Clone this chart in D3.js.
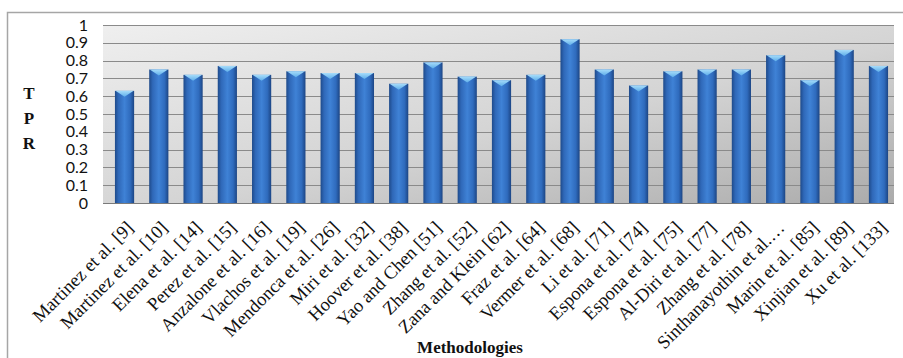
<!DOCTYPE html>
<html>
<head>
<meta charset="utf-8">
<script src="https://cdn.jsdelivr.net/npm/d3@7"></script>
<style>
  html, body { margin: 0; padding: 0; background: #ffffff; }
  svg { display: block; }
</style>
</head>
<body>
<svg id="chart" width="903" height="358"></svg>
<script>
const categories = [
  "Martinez et al. [9]", "Martinez et al. [10]", "Elena et al. [14]", "Perez et al. [15]",
  "Anzalone et al. [16]", "Vlachos et al. [19]", "Mendonca et al. [26]", "Miri et al. [32]",
  "Hoover et al. [38]", "Yao and Chen [51]", "Zhang et al. [52]", "Zana and Klein [62]",
  "Fraz et al. [64]", "Vermer et al. [68]", "Li et al. [71]", "Espona et al. [74]",
  "Espona et al. [75]", "Al-Diri et al. [77]", "Zhang et al. [78]", "Sinthanayothin et al.…",
  "Marin et al. [85]", "Xinjian et al. [89]", "Xu et al. [133]"
];
const tprValues = [
  0.63, 0.75, 0.72, 0.77, 0.72, 0.74, 0.73, 0.73, 0.67, 0.79, 0.71, 0.69,
  0.72, 0.92, 0.75, 0.66, 0.74, 0.75, 0.75, 0.83, 0.69, 0.86, 0.77
];
const yTicks = [0, 0.1, 0.2, 0.3, 0.4, 0.5, 0.6, 0.7, 0.8, 0.9, 1];
const yTitleLetters = ["T", "P", "R"];
const xTitle = "Methodologies";

const svg = d3.select("#chart");
const W = 903, H = 358;

const wallLeft = 103, wallRight = 894;
const y = d3.scaleLinear().domain([0, 1]).range([203, 25]);
const x = d3.scaleBand().domain(categories).range([107.4, 895.6])
  .paddingInner(0.44).paddingOuter(0.22);

const defs = svg.append("defs");
const wallGrad = defs.append("linearGradient").attr("id", "wallGrad")
  .attr("x1", "0").attr("y1", "0").attr("x2", "1").attr("y2", "1");
wallGrad.append("stop").attr("offset", "0%").attr("stop-color", "#efefef");
wallGrad.append("stop").attr("offset", "55%").attr("stop-color", "#d4d4d4");
wallGrad.append("stop").attr("offset", "100%").attr("stop-color", "#ababab");

const barGrad = defs.append("linearGradient").attr("id", "barGrad")
  .attr("x1", "0").attr("y1", "0").attr("x2", "1").attr("y2", "0");
[["0%", "#1e4a8a"], ["18%", "#2f68b8"], ["50%", "#3f82d6"], ["80%", "#2f6bbd"], ["100%", "#1c4584"]]
  .forEach(([o, c]) => barGrad.append("stop").attr("offset", o).attr("stop-color", c));

const capGrad = defs.append("linearGradient").attr("id", "capGrad")
  .attr("x1", "0").attr("y1", "0").attr("x2", "0").attr("y2", "1");
capGrad.append("stop").attr("offset", "0%").attr("stop-color", "#a6dcfa");
capGrad.append("stop").attr("offset", "100%").attr("stop-color", "#5eaeea");

// outer chart border
svg.append("path")
  .attr("d", `M7.5,${H} L7.5,12.5 L${W},12.5`)
  .attr("fill", "none").attr("stroke", "#a6a6a6").attr("stroke-width", 1.5);

// back wall
svg.append("rect")
  .attr("x", wallLeft).attr("y", y(1))
  .attr("width", wallRight - wallLeft).attr("height", y(0) - y(1))
  .attr("fill", "url(#wallGrad)");

// gridlines
svg.append("g").selectAll("line").data(yTicks).join("line")
  .attr("x1", wallLeft).attr("x2", wallRight)
  .attr("y1", d => Math.round(y(d)) + 0.5).attr("y2", d => Math.round(y(d)) + 0.5)
  .attr("stroke", d => d === 0 ? "#7a7a7a" : "#8a8a8a").attr("stroke-width", 1);

// y axis labels
const yAxis = d3.axisLeft(y).tickValues(yTicks).tickSize(0).tickPadding(0)
  .tickFormat(d => d3.format("")(d));
const yg = svg.append("g").attr("transform", `translate(${wallLeft - 15},0)`).call(yAxis);
yg.select(".domain").remove();
yg.selectAll("text")
  .attr("font-family", "Lato, 'Open Sans', sans-serif")
  .attr("font-size", 16).attr("fill", "#111");

// bars
const bars = svg.append("g").selectAll("g").data(categories).join("g");
bars.append("rect")
  .attr("x", d => x(d)).attr("width", x.bandwidth())
  .attr("y", (d, i) => y(tprValues[i]))
  .attr("height", (d, i) => y(0) - y(tprValues[i]))
  .attr("fill", "url(#barGrad)");
bars.append("path")
  .attr("d", (d, i) => {
    const x0 = x(d), w = x.bandwidth(), t = y(tprValues[i]);
    return `M${x0 + 0.5},${t} L${x0 + w - 0.5},${t} L${x0 + w / 2},${t + 6} Z`;
  })
  .attr("fill", "url(#capGrad)");

// x labels
const xAxis = d3.axisBottom(x).tickSize(0).tickPadding(0);
const xg = svg.append("g").attr("transform", `translate(0,${y(0)})`).call(xAxis);
xg.select(".domain").remove();
xg.selectAll("text")
  .attr("font-family", "'Liberation Serif', 'Times New Roman', serif")
  .attr("font-size", 18.5).attr("fill", "#111")
  .attr("text-anchor", "end")
  .attr("dy", "0.68em").attr("y", 0)
  .attr("transform", "translate(1,17) rotate(-45)");

// y title
svg.append("g").selectAll("text").data(yTitleLetters).join("text")
  .attr("x", 29).attr("y", (d, i) => 99 + i * 25)
  .attr("text-anchor", "middle")
  .attr("font-family", "'Liberation Serif', 'Times New Roman', serif")
  .attr("font-weight", "bold").attr("font-size", 17).attr("fill", "#111")
  .text(d => d);

// x title
svg.append("text")
  .attr("x", 470).attr("y", 353)
  .attr("text-anchor", "middle")
  .attr("font-family", "'Liberation Serif', 'Times New Roman', serif")
  .attr("font-weight", "bold").attr("font-size", 17).attr("fill", "#111")
  .text(xTitle);
</script>
</body>
</html>
